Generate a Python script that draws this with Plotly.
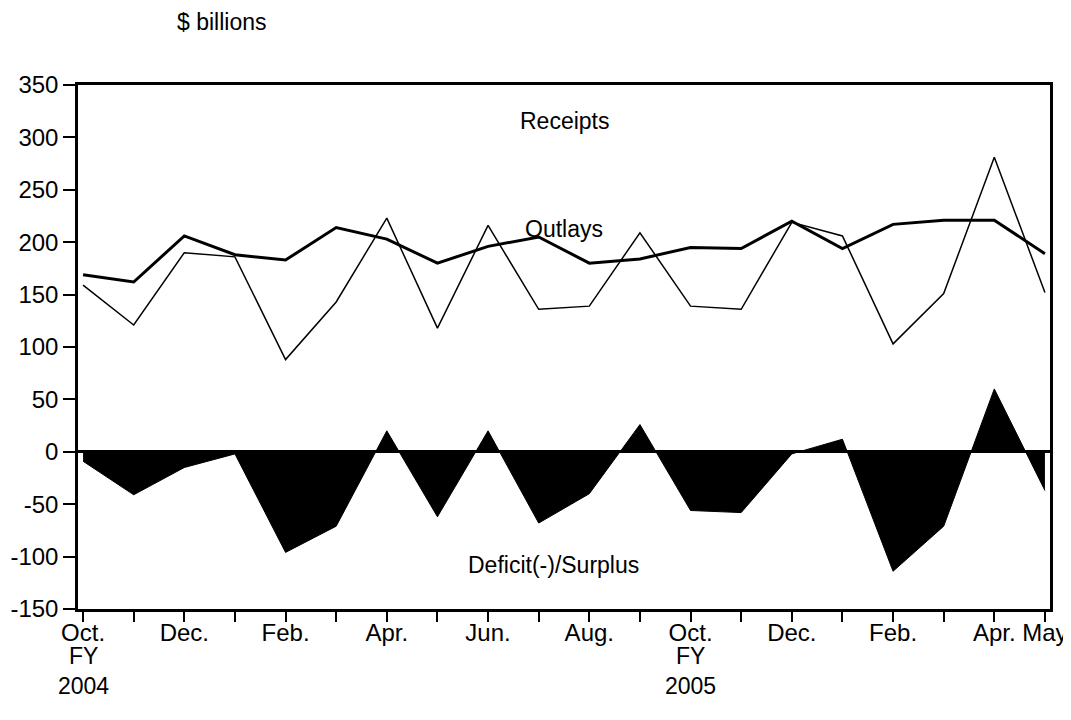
import plotly.graph_objects as go

months = ["Oct.", "Nov.", "Dec.", "Jan.", "Feb.", "Mar.", "Apr.", "May", "Jun.", "Jul.",
          "Aug.", "Sep.", "Oct.", "Nov.", "Dec.", "Jan.", "Feb.", "Mar.", "Apr.", "May"]
tick_labels = ["Oct.", "", "Dec.", "", "Feb.", "", "Apr.", "", "Jun.", "",
               "Aug.", "", "Oct.", "", "Dec.", "", "Feb.", "", "Apr.", "May"]
receipts = [159, 121, 190, 186, 88, 143, 223, 118, 216, 136,
            139, 209, 139, 136, 219, 206, 103, 151, 281, 152]
outlays = [169, 162, 206, 188, 183, 214, 203, 180, 196, 205,
           180, 184, 195, 194, 220, 194, 217, 221, 221, 189]
deficit = [-9, -41, -15, -2, -96, -71, 20, -62, 20, -68,
           -40, 26, -56, -58, -2, 12, -114, -71, 60, -37]
y_ticks = [-150, -100, -50, 0, 50, 100, 150, 200, 250, 300, 350]
y_tick_labels = ["-150", "-100", "-50", "0", "50", "100", "150", "200", "250", "300", "350"]

x = list(range(len(months)))
FONT = "Liberation Sans, Arial, Helvetica, sans-serif"

fig = go.Figure()
fig.add_trace(go.Scatter(x=x, y=deficit, mode="lines", fill="tozeroy",
                         fillcolor="black", line=dict(color="black", width=1),
                         name="Deficit(-)/Surplus"))
fig.add_trace(go.Scatter(x=x, y=receipts, mode="lines",
                         line=dict(color="black", width=1.5), name="Receipts"))
fig.add_trace(go.Scatter(x=x, y=outlays, mode="lines",
                         line=dict(color="black", width=3), name="Outlays"))

fig.update_layout(
    width=1063, height=712,
    margin=dict(l=70, r=21, t=77, b=111),
    paper_bgcolor="white", plot_bgcolor="white",
    showlegend=False,
    font=dict(family=FONT, size=24, color="black"),
    xaxis=dict(range=[-0.1, 19.1], tickmode="array", tickvals=x, ticktext=tick_labels,
               showgrid=False, zeroline=False, showline=True, linecolor="black",
               linewidth=2.5, mirror=True, ticks="outside", ticklen=10, tickwidth=2,
               tickcolor="black", tickfont=dict(size=24), automargin=False,
               ticklabelstandoff=-10),
    yaxis=dict(range=[-150, 350], tickmode="array", tickvals=y_ticks, ticktext=y_tick_labels,
               showgrid=False, zeroline=True, zerolinecolor="black", zerolinewidth=3,
               showline=True, linecolor="black", linewidth=2.5, mirror=True,
               ticks="outside", ticklen=12, tickwidth=2, tickcolor="black",
               tickfont=dict(size=24), automargin=False),
)

fig.update_layout(annotations=[
    dict(text="$ billions", x=0.148, y=1.12, xref="paper", yref="paper",
         showarrow=False, xanchor="center", yanchor="middle", font=dict(size=23)),
    dict(text="Receipts", x=9.5, y=316, xref="x", yref="y", showarrow=False,
         xanchor="center", yanchor="middle", font=dict(size=23)),
    dict(text="Outlays", x=9.5, y=213, xref="x", yref="y", showarrow=False,
         xanchor="center", yanchor="middle", font=dict(size=23)),
    dict(text="Deficit(-)/Surplus", x=9.3, y=-108, xref="x", yref="y", showarrow=False,
         xanchor="center", yanchor="middle", font=dict(size=23)),
    dict(text="FY<br>2004", x=0, y=-0.062, xref="x", yref="paper", showarrow=False,
         xanchor="center", yanchor="top", font=dict(size=23)),
    dict(text="FY<br>2005", x=12, y=-0.062, xref="x", yref="paper", showarrow=False,
         xanchor="center", yanchor="top", font=dict(size=23)),
])

fig.write_html("out.html")
